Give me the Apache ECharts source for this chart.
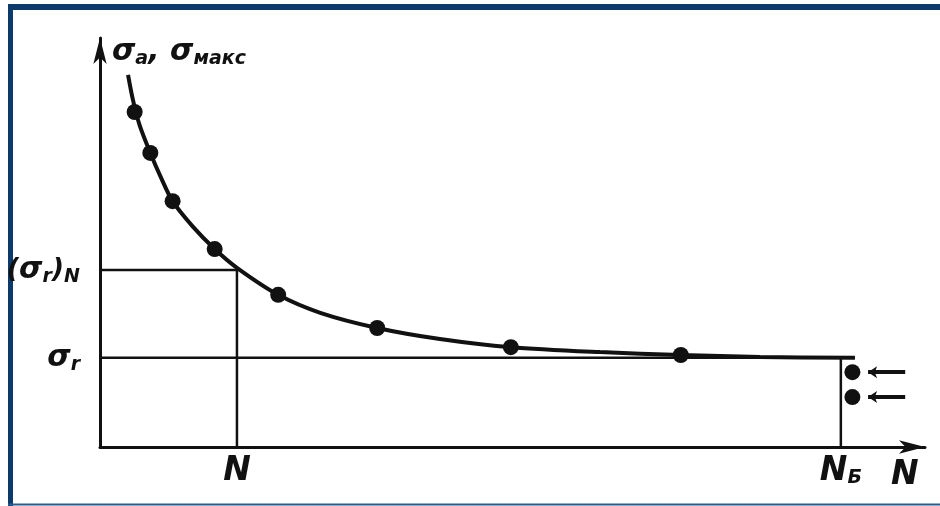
<!DOCTYPE html>
<html>
<head>
<meta charset="utf-8">
<script src="https://cdn.jsdelivr.net/npm/echarts@6/dist/echarts.min.js"></script>
<style>
  html, body { margin: 0; padding: 0; background: #fff; }
  #chart { width: 940px; height: 506px; }
</style>
</head>
<body>
<div id="chart"></div>
<script>
// fatigue curve, schematic units (N on x, stress amplitude on y)
const curveN = [3.4, 4.0, 4.8, 6.1, 7.3, 8.8, 11.2, 13.9, 16.6, 21.6, 26.7, 33.6, 41.2, 49.8, 60.6, 70.4, 80.0, 91.5];
const curveS = [91.0, 84.8, 78.7, 71.9, 66.3, 60.1, 54.0, 48.4, 43.8, 37.2, 32.8, 29.1, 26.4, 24.4, 23.2, 22.5, 22.0, 21.8];

// test specimens that failed
const failN = [4.2, 6.1, 8.8, 13.9, 21.6, 33.6, 49.8, 70.4];
const failS = [81.9, 71.9, 60.1, 48.4, 37.2, 29.1, 24.4, 22.5];

// run-outs (no failure at base number of cycles)
const runoutN = [91.2, 91.2];
const runoutS = [18.3, 12.2];

const sigmaR = 21.8;      // fatigue limit
const sigmaRN = 43.3;     // limited endurance at N
const nLevel = 16.6;      // N
const nBase = 89.8;       // base number of cycles
const sigmaLineEnd = 91.5;

const INK = '#111';
const FONT = 'DejaVu Sans';

const chart = echarts.init(document.getElementById('chart'));

const rich = {
  s: { fontSize: 30, fontStyle: 'italic', fontWeight: 'bold', fontFamily: FONT, color: INK },
  p: { fontSize: 27, fontStyle: 'italic', fontWeight: 'bold', fontFamily: FONT, color: INK },
  n: { fontSize: 33, fontStyle: 'italic', fontWeight: 'bold', fontFamily: FONT, color: INK },
  sub: { fontSize: 19, fontStyle: 'italic', fontWeight: 'bold', fontFamily: FONT, color: INK, verticalAlign: 'bottom', padding: [14, 0, 0, 0] },
};

const guide = (pts) => ({
  type: 'line',
  data: pts,
  symbol: 'none',
  lineStyle: { color: INK, width: 2.5 },
  silent: true,
  z: 1,
});

chart.setOption({
  animation: false,
  grid: { left: 100, right: 15, top: 38, bottom: 59 },
  xAxis: {
    type: 'value',
    min: 0,
    max: 100,
    splitLine: { show: false },
    axisTick: { show: false },
    axisLine: { symbol: ['none', 'arrow'], symbolSize: [10, 26], lineStyle: { color: INK, width: 3 } },
    axisLabel: {
      customValues: [nLevel, nBase],
      margin: 8,
      formatter: v => (v === nLevel ? '{n|N}' : '{n|N}{sub|Б}'),
      rich,
    },
    name: 'N',
    nameLocation: 'end',
    nameGap: -34,
    nameTextStyle: {
      fontSize: 33, fontStyle: 'italic', fontWeight: 'bold', fontFamily: FONT, color: INK,
      verticalAlign: 'top', padding: [12, 0, 0, 0],
    },
  },
  yAxis: {
    type: 'value',
    min: 0,
    max: 100,
    splitLine: { show: false },
    axisTick: { show: false },
    axisLine: { symbol: ['none', 'arrow'], symbolSize: [10, 26], lineStyle: { color: INK, width: 3 } },
    axisLabel: {
      customValues: [sigmaR, sigmaRN],
      margin: 20,
      formatter: v => (v === sigmaR ? '{s|σ}{sub|r}' : '{p|(}{s|σ}{sub|r}{p|)}{sub|N}'),
      rich,
    },
    name: '{s|σ}{sub|a}{s|, σ}{sub|макс}',
    nameLocation: 'end',
    nameGap: -14,
    nameTextStyle: { align: 'left', verticalAlign: 'middle', padding: [0, 0, 0, 12], rich },
  },
  series: [
    guide([[0, sigmaRN], [nLevel, sigmaRN], [nLevel, 0]]),
    guide([[0, sigmaR], [sigmaLineEnd, sigmaR]]),
    guide([[nBase, sigmaR], [nBase, 0]]),
    {
      type: 'line',
      data: curveN.map((n, i) => [n, curveS[i]]),
      smooth: 0.3,
      symbol: 'none',
      lineStyle: { color: INK, width: 4 },
      z: 3,
    },
    {
      type: 'scatter',
      data: failN.map((n, i) => [n, failS[i]]),
      symbolSize: 16,
      itemStyle: { color: INK, opacity: 1 },
      z: 4,
    },
    {
      type: 'scatter',
      data: runoutN.map((n, i) => [n, runoutS[i]]),
      symbolSize: 16,
      itemStyle: { color: INK, opacity: 1 },
      z: 4,
    },
    {
      type: 'lines',
      coordinateSystem: 'cartesian2d',
      data: runoutS.map(s => ({ coords: [[97.6, s], [93.1, s]] })),
      symbol: ['none', 'arrow'],
      symbolSize: 9,
      lineStyle: { color: INK, width: 4, opacity: 1 },
      z: 4,
    },
  ],
  graphic: [
    { type: 'line', shape: { x1: 8, y1: 7, x2: 940, y2: 7 }, style: { stroke: '#0b3a6b', lineWidth: 6 } },
    { type: 'line', shape: { x1: 10.5, y1: 4, x2: 10.5, y2: 506 }, style: { stroke: '#0b3a6b', lineWidth: 5 } },
    { type: 'line', shape: { x1: 8, y1: 504.5, x2: 940, y2: 504.5 }, style: { stroke: '#2b5a8b', lineWidth: 2 } },
  ],
});

window.addEventListener('resize', () => chart.resize());
</script>
</body>
</html>
